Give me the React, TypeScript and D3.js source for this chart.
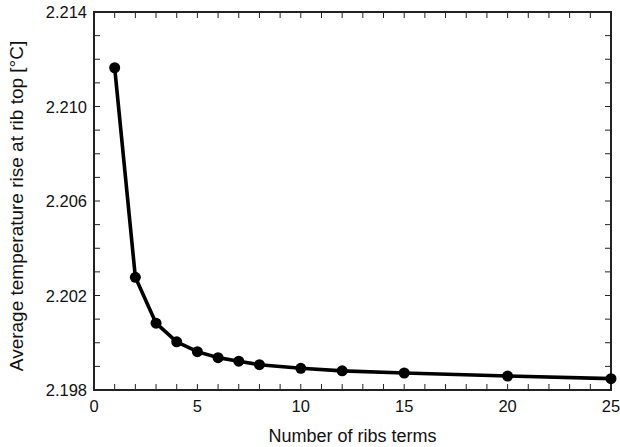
import React, { useRef, useEffect } from "react";
import * as d3 from "d3";

const terms = [1, 2, 3, 4, 5, 6, 7, 8, 10, 12, 15, 20, 25];
const tempRise = [2.21164, 2.20277, 2.20083, 2.20004, 2.19962, 2.19937, 2.19922, 2.19907, 2.19892, 2.19881, 2.19872, 2.19859, 2.19848];
const xTicks = [0, 5, 10, 15, 20, 25];
const yTicks = [2.198, 2.202, 2.206, 2.21, 2.214];

export default function App() {
  const ref = useRef<SVGSVGElement>(null);

  useEffect(() => {
    const width = 620;
    const height = 447;
    const m = { top: 12, right: 9, bottom: 57, left: 94 };

    const svg = d3.select(ref.current);
    svg.selectAll("*").remove();
    svg.style("font-family", "'Liberation Sans', Arial, sans-serif");

    const x = d3.scaleLinear().domain([0, 25]).range([m.left, width - m.right]);
    const y = d3.scaleLinear().domain([2.198, 2.214]).range([height - m.bottom, m.top]);
    const [x0, x1] = x.range();
    const [y0, y1] = y.range();

    // minor ticks on all four sides, pointing inward
    const minorX = d3.range(0, 26, 1);
    const minorY = d3.range(0, 17).map((i) => 2.198 + i * 0.001);
    const tl = 6;
    const ticks = svg.append("g").attr("stroke", "#222").attr("stroke-width", 1);

    minorX.forEach((v) => {
      ticks.append("line").attr("x1", x(v)).attr("x2", x(v)).attr("y1", y0).attr("y2", y0 - tl);
      ticks.append("line").attr("x1", x(v)).attr("x2", x(v)).attr("y1", y1).attr("y2", y1 + tl);
    });
    minorY.forEach((v) => {
      ticks.append("line").attr("x1", x0).attr("x2", x0 + tl).attr("y1", y(v)).attr("y2", y(v));
      ticks.append("line").attr("x1", x1).attr("x2", x1 - tl).attr("y1", y(v)).attr("y2", y(v));
    });

    svg.append("rect")
      .attr("x", x0).attr("y", y1)
      .attr("width", x1 - x0).attr("height", y0 - y1)
      .attr("fill", "none").attr("stroke", "#222").attr("stroke-width", 2);

    svg.append("g").selectAll("text").data(xTicks).join("text")
      .attr("x", (d) => x(d)).attr("y", y0 + 21.5)
      .attr("text-anchor", "middle").attr("font-size", 16.5).attr("fill", "#111")
      .text((d) => d);

    svg.append("g").selectAll("text").data(yTicks).join("text")
      .attr("x", x0 - 7).attr("y", (d) => y(d) + 6)
      .attr("text-anchor", "end").attr("font-size", 16.5).attr("fill", "#111")
      .text((d) => d3.format(".3f")(d));

    svg.append("text")
      .attr("x", (x0 + x1) / 2).attr("y", height - 5.5)
      .attr("text-anchor", "middle").attr("font-size", 18).attr("fill", "#111")
      .text("Number of ribs terms");

    svg.append("text")
      .attr("transform", `translate(23,206) rotate(-90)`)
      .attr("text-anchor", "middle").attr("font-size", 19).attr("fill", "#111")
      .text("Average temperature rise at rib top [°C]");

    const pts = terms.map((t, i) => [t, tempRise[i]] as [number, number]);
    const line = d3.line<[number, number]>().x((d) => x(d[0])).y((d) => y(d[1]));

    svg.append("path").datum(pts)
      .attr("fill", "none").attr("stroke", "#000").attr("stroke-width", 3.6)
      .attr("stroke-linejoin", "round").attr("d", line);

    svg.append("g").selectAll("circle").data(pts).join("circle")
      .attr("cx", (d) => x(d[0])).attr("cy", (d) => y(d[1]))
      .attr("r", 5.5).attr("fill", "#000");
  }, []);

  return (
    <svg ref={ref} width={620} height={447} style={{ position: "absolute", left: 0, top: 0, background: "#fff" }} />
  );
}
